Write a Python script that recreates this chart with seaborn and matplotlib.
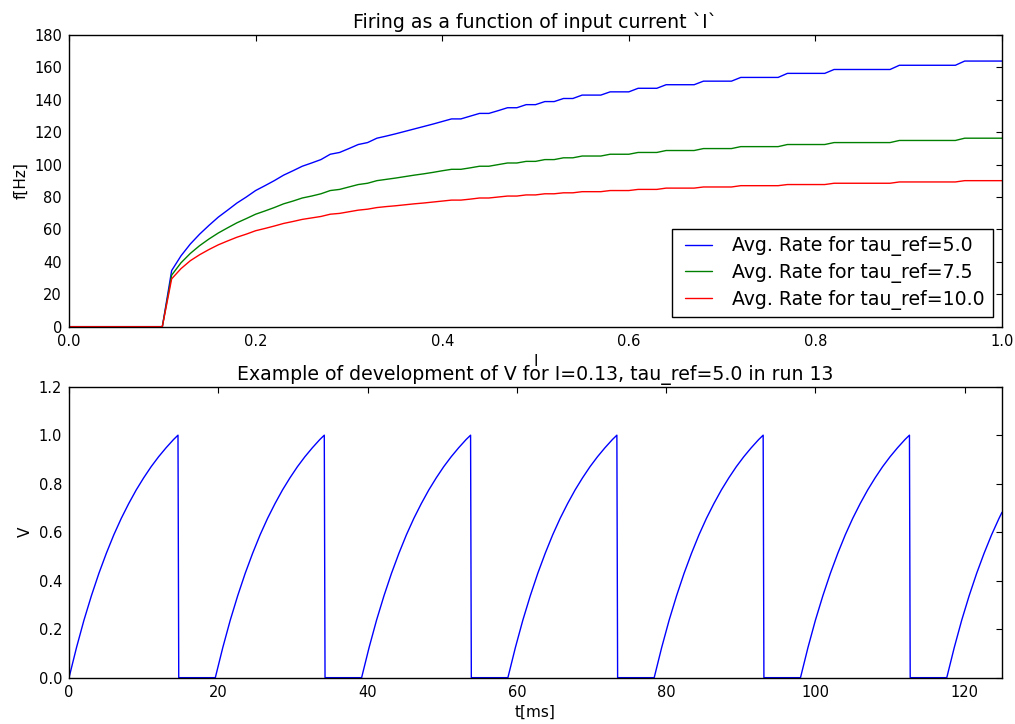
import matplotlib
matplotlib.use("Agg")
import matplotlib.pyplot as plt
import numpy as np
import pandas as pd
import seaborn as sns

# ---------------- data ----------------
I_values = [0.00, 0.01, 0.02, 0.03, 0.04, 0.05, 0.06, 0.07, 0.08, 0.09,
            0.10, 0.11, 0.12, 0.13, 0.14, 0.15, 0.16, 0.17, 0.18, 0.19,
            0.20, 0.21, 0.22, 0.23, 0.24, 0.25, 0.26, 0.27, 0.28, 0.29,
            0.30, 0.31, 0.32, 0.33, 0.34, 0.35, 0.36, 0.37, 0.38, 0.39,
            0.40, 0.41, 0.42, 0.43, 0.44, 0.45, 0.46, 0.47, 0.48, 0.49,
            0.50, 0.51, 0.52, 0.53, 0.54, 0.55, 0.56, 0.57, 0.58, 0.59,
            0.60, 0.61, 0.62, 0.63, 0.64, 0.65, 0.66, 0.67, 0.68, 0.69,
            0.70, 0.71, 0.72, 0.73, 0.74, 0.75, 0.76, 0.77, 0.78, 0.79,
            0.80, 0.81, 0.82, 0.83, 0.84, 0.85, 0.86, 0.87, 0.88, 0.89,
            0.90, 0.91, 0.92, 0.93, 0.94, 0.95, 0.96, 0.97, 0.98, 0.99,
            1.00]

rate_tau5 = [0, 0, 0, 0, 0, 0, 0, 0, 0, 0, 0,
             34.6, 43.7, 51.0, 57.1, 62.5, 67.6, 71.9, 76.3, 80.0, 84.0,
             87.0, 90.1, 93.5, 96.2, 99.0, 101.0, 103.1, 106.4, 107.5, 109.9,
             112.4, 113.6, 116.3, 117.6, 119.0, 120.5, 122.0, 123.5, 125.0, 126.6,
             128.2, 128.2, 129.9, 131.6, 131.6, 133.3, 135.1, 135.1, 137.0, 137.0,
             138.9, 138.9, 140.8, 140.8, 142.9, 142.9, 142.9, 144.9, 144.9, 144.9,
             147.1, 147.1, 147.1, 149.3, 149.3, 149.3, 149.3, 151.5, 151.5, 151.5,
             151.5, 153.8, 153.8, 153.8, 153.8, 153.8, 156.3, 156.3, 156.3, 156.3,
             156.3, 158.7, 158.7, 158.7, 158.7, 158.7, 158.7, 158.7, 161.3, 161.3,
             161.3, 161.3, 161.3, 161.3, 161.3, 163.9, 163.9, 163.9, 163.9, 163.9]

rate_tau75 = [0, 0, 0, 0, 0, 0, 0, 0, 0, 0, 0,
              31.8, 39.4, 45.2, 50.0, 54.1, 57.8, 61.0, 64.1, 66.7, 69.4,
              71.4, 73.5, 75.8, 77.5, 79.4, 80.6, 82.0, 84.0, 84.7, 86.2,
              87.7, 88.5, 90.1, 90.9, 91.7, 92.6, 93.5, 94.3, 95.2, 96.2,
              97.1, 97.1, 98.0, 99.0, 99.0, 100.0, 101.0, 101.0, 102.0, 102.0,
              103.1, 103.1, 104.2, 104.2, 105.3, 105.3, 105.3, 106.4, 106.4, 106.4,
              107.5, 107.5, 107.5, 108.7, 108.7, 108.7, 108.7, 109.9, 109.9, 109.9,
              109.9, 111.1, 111.1, 111.1, 111.1, 111.1, 112.4, 112.4, 112.4, 112.4,
              112.4, 113.6, 113.6, 113.6, 113.6, 113.6, 113.6, 113.6, 114.9, 114.9,
              114.9, 114.9, 114.9, 114.9, 114.9, 116.3, 116.3, 116.3, 116.3, 116.3]

rate_tau10 = [0, 0, 0, 0, 0, 0, 0, 0, 0, 0, 0,
              29.5, 35.8, 40.7, 44.4, 47.6, 50.5, 52.9, 55.2, 57.1, 59.2,
              60.6, 62.1, 63.7, 64.9, 66.2, 67.1, 68.0, 69.4, 69.9, 70.9,
              71.9, 72.5, 73.5, 74.1, 74.6, 75.2, 75.8, 76.3, 76.9, 77.5,
              78.1, 78.1, 78.7, 79.4, 79.4, 80.0, 80.6, 80.6, 81.3, 81.3,
              82.0, 82.0, 82.6, 82.6, 83.3, 83.3, 83.3, 84.0, 84.0, 84.0,
              84.7, 84.7, 84.7, 85.5, 85.5, 85.5, 85.5, 86.2, 86.2, 86.2,
              86.2, 87.0, 87.0, 87.0, 87.0, 87.0, 87.7, 87.7, 87.7, 87.7,
              87.7, 88.5, 88.5, 88.5, 88.5, 88.5, 88.5, 88.5, 89.3, 89.3,
              89.3, 89.3, 89.3, 89.3, 89.3, 90.1, 90.1, 90.1, 90.1, 90.1]

series_labels = ["Avg. Rate for tau_ref=5.0",
                 "Avg. Rate for tau_ref=7.5",
                 "Avg. Rate for tau_ref=10.0"]
series_colors = ["#0000ff", "#008000", "#ff0000"]

# membrane potential trace, one list per charging cycle
t_cycles = [
    [0.0, 1.0, 2.0, 3.0, 4.0, 5.0, 6.0, 7.0, 8.0, 9.0, 10.0, 11.0, 12.0, 13.0, 14.0, 14.6, 14.7],
    [19.6, 20.6, 21.6, 22.6, 23.6, 24.6, 25.6, 26.6, 27.6, 28.6, 29.6, 30.6, 31.6, 32.6, 33.6, 34.2, 34.3],
    [39.2, 40.2, 41.2, 42.2, 43.2, 44.2, 45.2, 46.2, 47.2, 48.2, 49.2, 50.2, 51.2, 52.2, 53.2, 53.8, 53.9],
    [58.8, 59.8, 60.8, 61.8, 62.8, 63.8, 64.8, 65.8, 66.8, 67.8, 68.8, 69.8, 70.8, 71.8, 72.8, 73.4, 73.5],
    [78.4, 79.4, 80.4, 81.4, 82.4, 83.4, 84.4, 85.4, 86.4, 87.4, 88.4, 89.4, 90.4, 91.4, 92.4, 93.0, 93.1],
    [98.0, 99.0, 100.0, 101.0, 102.0, 103.0, 104.0, 105.0, 106.0, 107.0, 108.0, 109.0, 110.0, 111.0, 112.0, 112.6, 112.7],
    [117.6, 118.6, 119.6, 120.6, 121.6, 122.6, 123.6, 124.6, 125.0],
]
v_cycles = [
    [0.0, 0.124, 0.237, 0.338, 0.430, 0.513, 0.589, 0.657, 0.718, 0.774, 0.824, 0.870, 0.911, 0.948, 0.982, 1.0, 0.0],
    [0.0, 0.124, 0.237, 0.338, 0.430, 0.513, 0.589, 0.657, 0.718, 0.774, 0.824, 0.870, 0.911, 0.948, 0.982, 1.0, 0.0],
    [0.0, 0.124, 0.237, 0.338, 0.430, 0.513, 0.589, 0.657, 0.718, 0.774, 0.824, 0.870, 0.911, 0.948, 0.982, 1.0, 0.0],
    [0.0, 0.124, 0.237, 0.338, 0.430, 0.513, 0.589, 0.657, 0.718, 0.774, 0.824, 0.870, 0.911, 0.948, 0.982, 1.0, 0.0],
    [0.0, 0.124, 0.237, 0.338, 0.430, 0.513, 0.589, 0.657, 0.718, 0.774, 0.824, 0.870, 0.911, 0.948, 0.982, 1.0, 0.0],
    [0.0, 0.124, 0.237, 0.338, 0.430, 0.513, 0.589, 0.657, 0.718, 0.774, 0.824, 0.870, 0.911, 0.948, 0.982, 1.0, 0.0],
    [0.0, 0.124, 0.237, 0.338, 0.430, 0.513, 0.589, 0.657, 0.682],
]

# ---------------- style ----------------
sns.set_style("white")
plt.rcParams.update({
    "font.family": ["DejaVu Sans"],
    "axes.edgecolor": "black",
    "axes.linewidth": 1.0,
    "xtick.direction": "in",
    "ytick.direction": "in",
    "xtick.top": True,
    "ytick.right": True,
    "xtick.major.size": 4,
    "ytick.major.size": 4,
    "xtick.major.width": 0.8,
    "ytick.major.width": 0.8,
    "xtick.major.pad": 5,
    "ytick.major.pad": 5,
    "xtick.color": "black",
    "ytick.color": "black",
    "xtick.labelsize": 10.5,
    "ytick.labelsize": 10.5,
    "axes.labelsize": 11,
    "axes.titlesize": 13.6,
    "text.color": "black",
    "axes.labelcolor": "black",
    "legend.numpoints": 2,
})

fig = plt.figure(figsize=(10.15, 7.24), dpi=100, facecolor="white")
ax1 = fig.add_axes([0.0680, 0.5488, 0.9192, 0.4029])
ax2 = fig.add_axes([0.0680, 0.0640, 0.9192, 0.4019])

# top panel
rates = [rate_tau5, rate_tau75, rate_tau10]
for lab, col, r in zip(series_labels, series_colors, rates):
    sns.lineplot(x=I_values, y=r, ax=ax1, color=col, label=lab,
                 linewidth=1.0, estimator=None, errorbar=None)
ax1.set_xlim(0, 1.0)
ax1.set_ylim(0, 180)
ax1.set_xticks([0.0, 0.2, 0.4, 0.6, 0.8, 1.0])
ax1.set_yticks([0, 20, 40, 60, 80, 100, 120, 140, 160, 180])
ax1.set_title("Firing as a function of input current `I`", pad=5)
ax1.set_xlabel("I")
ax1.set_ylabel("f[Hz]")
leg = ax1.legend(loc="lower right", fontsize=13.6, frameon=True, fancybox=False,
                 framealpha=1.0, edgecolor="black", borderaxespad=0.5,
                 borderpad=0.4, labelspacing=0.35, handlelength=2.0,
                 handletextpad=0.8)
leg.get_frame().set_linewidth(1.0)

# bottom panel
t_all = [t for cyc in t_cycles for t in cyc]
v_all = [v for cyc in v_cycles for v in cyc]
df_v = pd.DataFrame({"t": t_all, "V": v_all})
sns.lineplot(data=df_v, x="t", y="V", ax=ax2, color="#0000ff", linewidth=1.0,
             estimator=None, errorbar=None, sort=False)
ax2.set_xlim(0, 125)
ax2.set_ylim(0, 1.2)
ax2.set_xticks([0, 20, 40, 60, 80, 100, 120])
ax2.set_yticks([0.0, 0.2, 0.4, 0.6, 0.8, 1.0, 1.2])
ax2.set_title("Example of development of V for I=0.13, tau_ref=5.0 in run 13", pad=5)
ax2.set_xlabel("t[ms]")
ax2.set_ylabel("V")

for ax in (ax1, ax2):
    for s in ax.spines.values():
        s.set_visible(True)
        s.set_color("black")
    ax.grid(False)

fig.savefig("out.png", dpi=100, facecolor="white")
